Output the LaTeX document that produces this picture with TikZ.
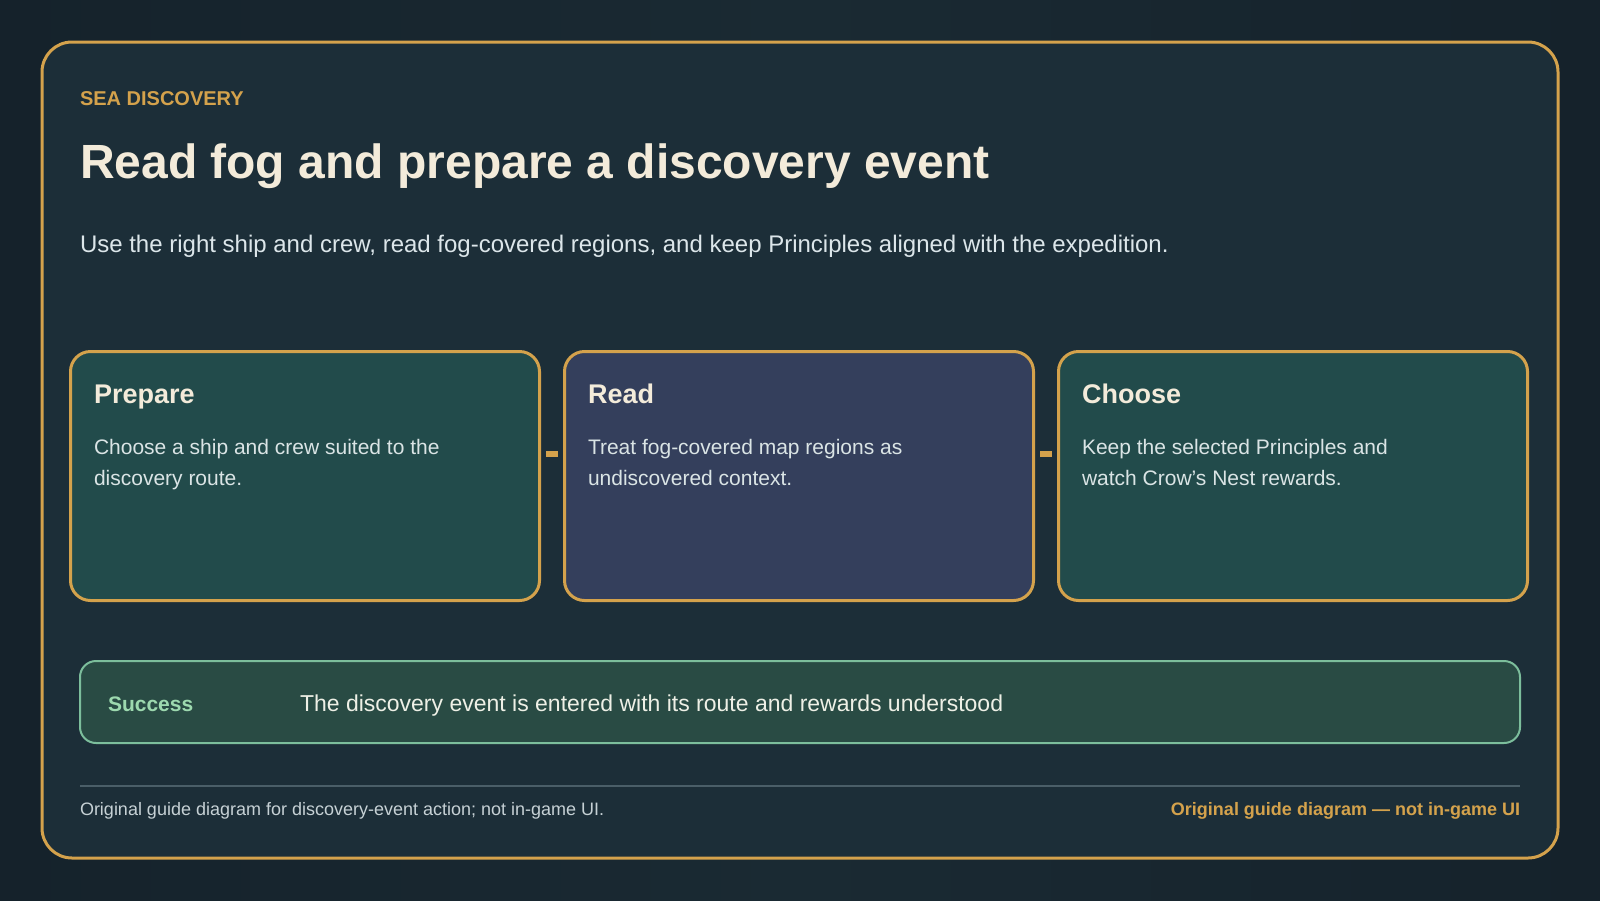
\documentclass[tikz,border=0pt]{standalone}
\usepackage{fontspec}
\setmainfont{Liberation Sans}
\usetikzlibrary{calc}
\definecolor{bgdark}{HTML}{15222B}
\definecolor{bglight}{HTML}{1A2A33}
\definecolor{panel}{HTML}{1C2E38}
\definecolor{gold}{HTML}{D4A24C}
\definecolor{cream}{HTML}{F3EBDA}
\definecolor{subtxt}{HTML}{DCE6EA}
\definecolor{bodytxt}{HTML}{DAE4E5}
\definecolor{tealcard}{HTML}{224B4B}
\definecolor{slatecard}{HTML}{343F5C}
\definecolor{succfill}{HTML}{294B44}
\definecolor{succline}{HTML}{7CBE9C}
\definecolor{succlabel}{HTML}{9DD9AF}
\definecolor{succtxt}{HTML}{EEF0E6}
\definecolor{sepline}{HTML}{4A5E68}
\definecolor{foottxt}{HTML}{C6D1D5}
\tikzset{
  txt/.style={inner sep=0pt, outer sep=0pt, anchor=base west},
  card/.style={draw=gold, line width=3pt, rounded corners=20pt, minimum width=469pt, minimum height=249pt, anchor=north west, inner sep=0pt},
  cardtitle/.style={txt, text=cream, font=\fontsize{27}{31}\selectfont\bfseries},
  cardbody/.style={txt, text=bodytxt, font=\fontsize{21}{31}\selectfont},
  linkline/.style={draw=gold, line width=6pt},
}
\begin{document}
\begin{tikzpicture}[x=1pt,y=-1pt]
\useasboundingbox (0,0) rectangle (1600,900);
\shade[left color=bgdark, right color=bgdark, middle color=bglight] (0,0) rectangle (1600,900);
\draw[gold, fill=panel, line width=3pt, rounded corners=30pt] (42,42) rectangle (1558,858);

\node[txt, text=gold, font=\fontsize{20}{24}\selectfont\bfseries] (kicker) at (80,105) {SEA DISCOVERY};
\node[txt, text=cream, font=\fontsize{48}{56}\selectfont\bfseries] (title) at (80,178) {Read fog and prepare a discovery event};
\node[txt, text=subtxt, font=\fontsize{24}{28}\selectfont] (sub) at (80,252) {Use the right ship and crew, read fog-covered regions, and keep Principles aligned with the expedition.};

\node[card, fill=tealcard] (prep) at (69,350) {};
\node[card, fill=slatecard] (read) at (563,350) {};
\node[card, fill=tealcard] (choose) at (1057,350) {};

\draw[linkline] ($(prep.north east)+(5,104)$) -- ($(read.north west)+(-5,104)$);
\draw[linkline] ($(read.north east)+(5,104)$) -- ($(choose.north west)+(-5,104)$);

\node[cardtitle] (preptitle) at ($(prep.north west)+(25,53)$) {Prepare};
\node[cardbody] (prepl1) at ($(prep.north west)+(25,104)$) {Choose a ship and crew suited to the};
\node[cardbody] (prepl2) at ($(prep.north west)+(25,135)$) {discovery route.};

\node[cardtitle] (readtitle) at ($(read.north west)+(25,53)$) {Read};
\node[cardbody] (readl1) at ($(read.north west)+(25,104)$) {Treat fog-covered map regions as};
\node[cardbody] (readl2) at ($(read.north west)+(25,135)$) {undiscovered context.};

\node[cardtitle] (choosetitle) at ($(choose.north west)+(25,53)$) {Choose};
\node[cardbody] (choosel1) at ($(choose.north west)+(25,104)$) {Keep the selected Principles and};
\node[cardbody] (choosel2) at ($(choose.north west)+(25,135)$) {watch Crow’s Nest rewards.};

\node[draw=succline, fill=succfill, line width=2pt, rounded corners=16pt, minimum width=1440pt, minimum height=82pt, anchor=north west, inner sep=0pt] (success) at (79,660) {};
\node[txt, text=succlabel, font=\fontsize{21}{25}\selectfont\bfseries] (succlab) at (108,711) {Success};
\node[txt, text=succtxt, font=\fontsize{23}{27}\selectfont] (succtext) at (300,711) {The discovery event is entered with its route and rewards understood};

\coordinate (sepL) at (80,786);
\coordinate (sepR) at (1520,786);
\draw[sepline, line width=1.5pt] (sepL) -- (sepR);

\node[txt, text=foottxt, font=\fontsize{18}{22}\selectfont] (footl) at (80,815) {Original guide diagram for discovery-event action; not in-game UI.};
\node[txt, anchor=base east, text=gold, font=\fontsize{18}{22}\selectfont\bfseries] (footr) at (1520,815) {Original guide diagram — not in-game UI};
\end{tikzpicture}
\end{document}
